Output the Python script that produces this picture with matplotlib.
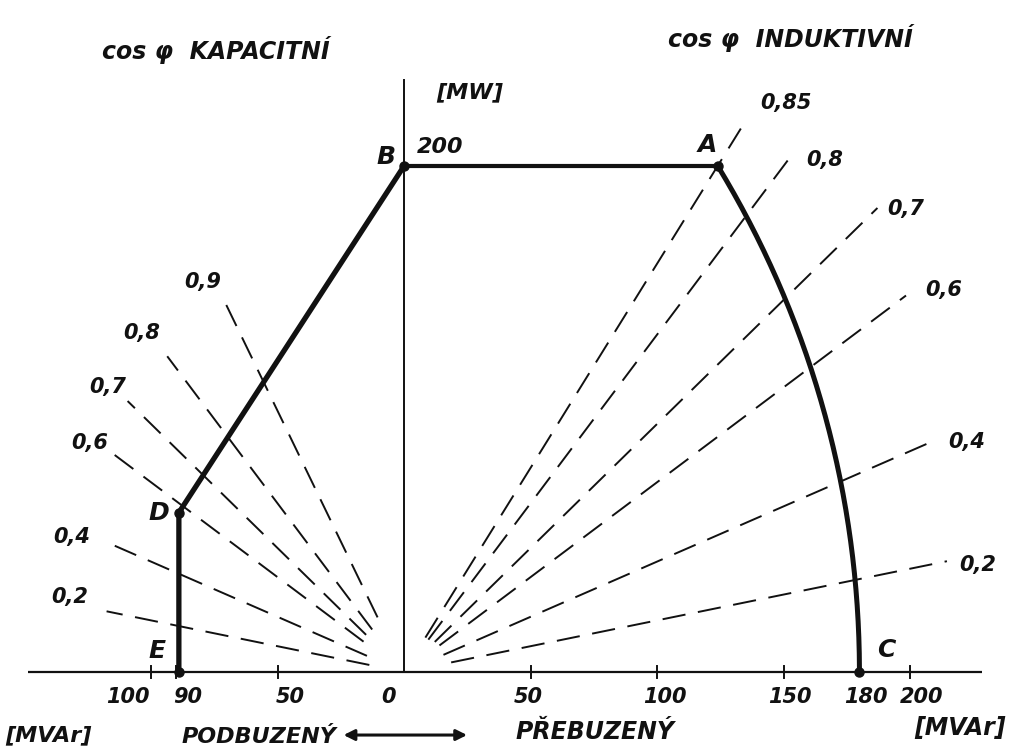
# Generator capability diagram (P-Q chart) - hand drawn style reproduction
import numpy as np
import matplotlib.pyplot as plt

# ---------------------------------------------------------------
# Data: corner points of the diagram  (Q [MVAr], P [MW])
point_names = ['E', 'D', 'B', 'A', 'C']
q_points = [-89, -89, 0, 124, 180]
p_points = [0, 63, 200, 200, 0]

# cos phi lines - capacitive side (left)
cap_cos = [0.9, 0.8, 0.7, 0.6, 0.4, 0.2]
cap_r_in = [24, 21, 21, 20, 16, 14]
cap_r_out = [164, 156, 153, 144, 126, 120]
cap_labels = ['0,9', '0,8', '0,7', '0,6', '0,4', '0,2']

# cos phi lines - inductive side (right)
ind_cos = [0.85, 0.8, 0.7, 0.6, 0.4, 0.2]
ind_r_in = [16, 16, 17, 17.5, 17, 19]
ind_r_out = [253, 256, 262, 248, 227, 219]
ind_labels = ['0,85', '0,8', '0,7', '0,6', '0,4', '0,2']

# x axis labels
tick_values = [-100, -90, -50, 0, 50, 100, 150, 180, 200]
tick_labels = ['100', '90', '50', '0', '50', '100', '150', '180', '200']
# ---------------------------------------------------------------

ink = '#111111'
font = dict(family='DejaVu Sans', style='italic', weight='bold', color=ink,
            ha='center', va='center')

fig = plt.figure(figsize=(10.11, 7.53), dpi=100)
ax = fig.add_axes([0, 0, 1, 1])
ax.set_xlim(-159.7, 239.9)
ax.set_ylim(-32.0, 265.6)
ax.axis('off')

# Axes
ax.plot([-148.6, 228.5], [0, 0], color=ink, lw=1.6, solid_capstyle='butt')
ax.plot([0, 0], [0, 234], color=ink, lw=1.4)
for t in tick_values:
    if t != 0 and t not in q_points:
        ax.plot([t, t], [-2.5, 2.5], color=ink, lw=1.4)

# cos phi dashed lines
for c, r0, r1 in zip(cap_cos, cap_r_in, cap_r_out):
    phi = np.arccos(c)
    r = np.array([r0, r1])
    ax.plot(-r * np.sin(phi), r * np.cos(phi), color=ink, lw=1.4,
            dashes=(12, 6.5))
for c, r0, r1 in zip(ind_cos, ind_r_in, ind_r_out):
    phi = np.arccos(c)
    r = np.array([r0, r1])
    ax.plot(r * np.sin(phi), r * np.cos(phi), color=ink, lw=1.4,
            dashes=(12, 6.5))

# Envelope E-D-B-A
ax.plot(q_points[:3], p_points[:3], color=ink, lw=3.8, solid_capstyle='round')
ax.plot(q_points[2:4], p_points[2:4], color=ink, lw=3.0)

# Arc A-C (circle with centre on the Q axis through A and C)
qa, pa, qc = q_points[3], p_points[3], q_points[4]
x0 = (qa**2 + pa**2 - qc**2) / (2 * (qa - qc))
R = qc - x0
th = np.linspace(np.arctan2(pa, qa - x0), 0, 200)
ax.plot(x0 + R * np.cos(th), R * np.sin(th), color=ink, lw=3.6)

# Points
ax.plot(q_points, p_points, 'o', color=ink, ms=6.5)

# Point names
name_pos = {'E': (-97.5, 8.3), 'D': (-96.8, 62.8), 'B': (-7.3, 203.6),
            'A': (119.8, 208.3), 'C': (190.5, 8.7)}
for n in point_names:
    ax.text(*name_pos[n], n, fontsize=18, **font)

# cos phi labels
cap_pos = [(-79.4, 154.2), (-103.6, 134), (-117, 112.6), (-124.1, 90.5),
           (-131.2, 53.4), (-132, 29.6)]
ind_pos = [(151, 224.9), (166.4, 202.4), (198.4, 183), (213.4, 151),
           (222.5, 90.9), (226.9, 42.3)]
for lab, (x, y) in zip(cap_labels, cap_pos):
    ax.text(x, y, lab, fontsize=15, **font)
for lab, (x, y) in zip(ind_labels, ind_pos):
    ax.text(x, y, lab, fontsize=15, **font)

# tick labels
tick_shift = [-9, 4.6, 5, -6.3, -1, 3, 2.6, 2.6, 4.7]
for t, lab, s in zip(tick_values, tick_labels, tick_shift):
    ax.text(t + s, -9.9, lab, fontsize=15, **font)

# Titles and units
ax.text(-74.3, 246, 'cos φ  KAPACITNÍ', fontsize=17, **font)
ax.text(152.6, 250.6, 'cos φ  INDUKTIVNÍ', fontsize=17, **font)
ax.text(26.1, 229.2, '[MW]', fontsize=16, **font)
ax.text(14.2, 207.5, '200', fontsize=16, **font)
ax.text(-140.7, -24.9, '[MVAr]', fontsize=16, **font)
ax.text(219.8, -22.1, '[MVAr]', fontsize=17, **font)
ax.text(-57.5, -25.7, 'PODBUZENÝ', fontsize=16, **font)
ax.text(75.5, -23.7, 'PŘEBUZENÝ', fontsize=17, **font)
ax.annotate('', xy=(-25, -24.9), xytext=(26, -24.9),
            arrowprops=dict(arrowstyle='<|-|>', color=ink, lw=2.2,
                            mutation_scale=16))

plt.savefig('out.png', dpi=100, facecolor='white')
